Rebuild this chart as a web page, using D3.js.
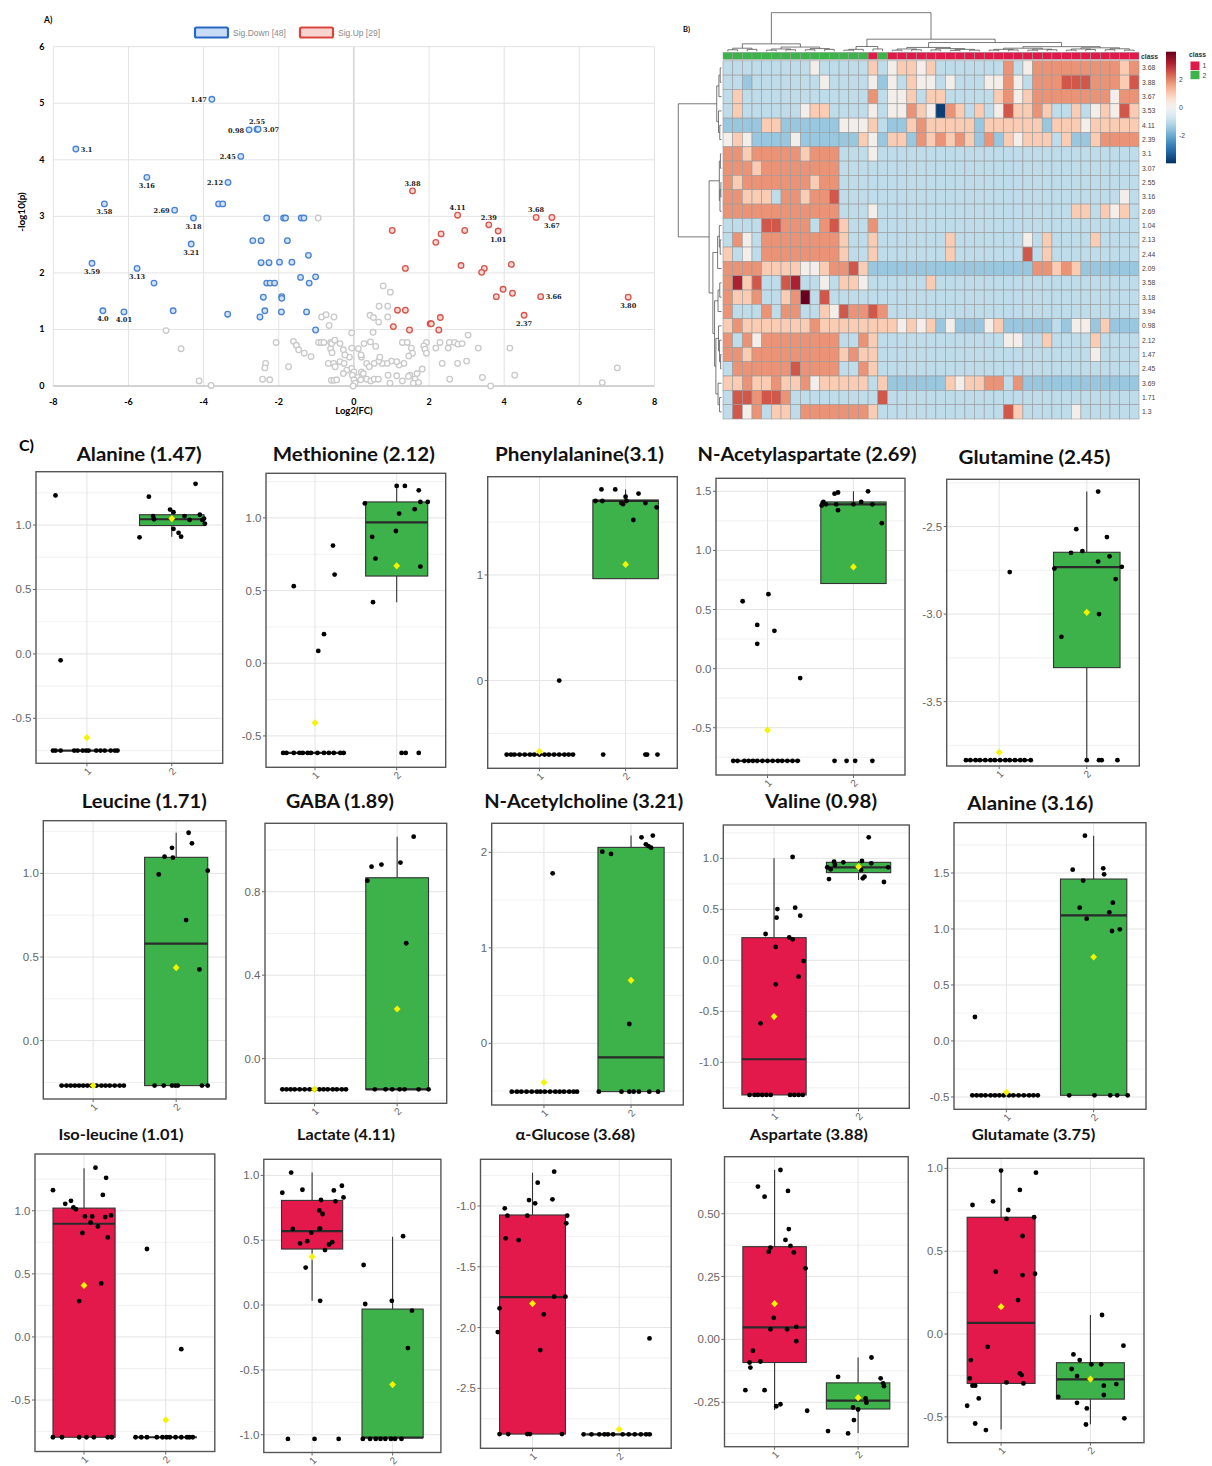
<!DOCTYPE html>
<html>
<head>
<meta charset="utf-8">
<script src="https://cdn.jsdelivr.net/npm/d3@7"></script>
<style>
  body { margin: 0; background: #ffffff; }
  svg { display: block; }
</style>
</head>
<body>
<svg id="fig" width="1212" height="1466"></svg>
<script>
// ---------------- Panel A: volcano data (log2 fold change, -log10 p, ppm label) ----------------
const volcanoXTicks = [-8, -6, -4, -2, 0, 2, 4, 6, 8];
const volcanoYTicks = [0, 1, 2, 3, 4, 5, 6];

const volcanoDown = [
  [-7.40, 4.19, "3.1"], [-3.78, 5.07, "1.47"], [-2.79, 4.53, "0.98"], [-2.58, 4.54, "2.55"], [-2.55, 4.54, "3.07"],
  [-3.01, 4.06, "2.45"], [-5.51, 3.69, "3.16"], [-3.35, 3.60, "2.12"], [-6.64, 3.22, "3.58"], [-4.77, 3.11, "2.69"],
  [-4.27, 2.97, "3.18"], [-4.33, 2.51, "3.21"], [-6.97, 2.17, "3.59"], [-5.77, 2.08, "3.13"], [-6.68, 1.33, "4.0"],
  [-6.12, 1.31, "4.01"],
  [-3.60, 3.22, ""], [-3.49, 3.22, ""], [-5.32, 1.82, ""], [-4.81, 1.33, ""], [-3.36, 1.27, ""],
  [-2.32, 2.97, ""], [-1.87, 2.97, ""], [-1.82, 2.97, ""], [-1.40, 2.97, ""], [-1.33, 2.97, ""],
  [-2.69, 2.57, ""], [-2.47, 2.57, ""], [-1.77, 2.57, ""], [-1.21, 2.31, ""],
  [-2.47, 2.18, ""], [-2.26, 2.18, ""], [-1.98, 2.19, ""], [-1.65, 2.19, ""],
  [-2.32, 1.82, ""], [-2.23, 1.82, ""], [-2.11, 1.82, ""], [-1.42, 1.92, ""], [-1.19, 1.82, ""], [-1.02, 1.93, ""],
  [-2.41, 1.57, ""], [-1.92, 1.58, ""], [-1.92, 1.55, ""],
  [-2.37, 1.33, ""], [-2.50, 1.22, ""], [-1.93, 1.31, ""], [-1.26, 1.31, ""], [-1.02, 0.99, ""]
];

const volcanoUp = [
  [1.56, 3.45, "3.88"], [2.76, 3.02, "4.11"], [3.59, 2.85, "2.39"], [3.84, 2.74, "1.01"], [4.85, 2.98, "3.68"],
  [5.27, 2.98, "3.67"], [4.97, 1.58, "3.66"], [7.30, 1.57, "3.80"], [4.53, 1.25, "2.37"],
  [1.02, 2.75, ""], [2.32, 2.69, ""], [2.18, 2.54, ""], [2.95, 2.75, ""], [1.37, 2.08, ""], [2.85, 2.13, ""],
  [3.47, 2.08, ""], [3.40, 2.01, ""], [4.19, 2.15, ""], [3.97, 1.71, ""], [3.79, 1.58, ""], [4.22, 1.64, ""],
  [1.16, 1.34, ""], [1.37, 1.34, ""], [1.05, 1.05, ""], [1.48, 0.99, ""], [2.03, 1.10, ""], [2.06, 1.10, ""],
  [2.30, 1.21, ""], [2.26, 0.99, ""]
];

const volcanoNS = [
  [-0.95, 2.97], [-5.0, 0.98], [-4.60, 0.66], [-4.12, 0.09], [-3.80, 0.01], [-2.07, 0.77], [-2.35, 0.40], [-2.37, 0.32],
  [-2.43, 0.12], [-2.24, 0.11], [-1.74, 0.34], [-1.61, 0.79], [-1.53, 0.72], [-1.47, 0.64], [-1.32, 0.58], [-1.14, 0.52],
  [-0.86, 1.22], [-0.74, 1.26], [-0.53, 1.22], [-0.66, 1.07], [-0.94, 0.77], [-0.87, 0.77], [-0.80, 0.77], [-0.62, 0.77],
  [-0.62, 0.66], [-0.58, 0.59], [-0.68, 0.40], [-0.54, 0.40], [-0.50, 0.34], [-0.60, 0.10], [-0.53, 0.10],
  [0.78, 1.77], [0.97, 1.66], [0.67, 1.41], [0.90, 1.41], [0.43, 1.25], [0.52, 1.21], [0.66, 1.13], [0.90, 1.22],
  [0.51, 0.95], [-0.06, 0.94], [3.04, 0.90], [3.31, 0.67], [4.15, 0.67], [3.00, 0.44], [2.76, 0.40], [2.35, 0.40],
  [2.55, 0.12], [3.42, 0.15], [3.64, 0.0], [4.28, 0.19], [7.01, 0.32], [6.61, 0.06], [1.93, 0.77], [2.18, 0.67],
  [2.29, 0.77], [2.51, 0.67], [2.54, 0.77], [2.68, 0.77], [2.77, 0.74], [2.88, 0.75],
  [1.86, 0.71], [1.89, 0.65], [1.93, 0.58], [1.82, 0.30], [1.68, 0.22], [1.49, 0.19], [1.45, 0.17], [1.63, 0.12],
  [1.68, 0.05], [1.29, 0.77], [1.42, 0.77], [1.53, 0.67], [1.56, 0.58], [1.46, 0.53], [1.33, 0.40], [1.20, 0.37],
  [1.14, 0.43], [1.00, 0.44], [0.88, 0.40], [0.75, 0.40], [0.66, 0.44], [0.54, 0.40], [0.69, 0.51], [0.58, 0.70],
  [0.44, 0.78], [0.27, 0.75], [0.20, 0.51], [0.34, 0.40], [0.41, 0.34], [0.20, 0.25], [0.10, 0.15], [0.34, 0.12],
  [0.45, 0.09], [0.54, 0.12], [0.65, 0.12], [0.96, 0.05], [0.91, 0.19], [1.14, 0.18], [1.29, 0.09], [1.58, 0.05],
  [1.72, 0.06],
  [-0.37, 0.43], [-0.26, 0.40], [-0.12, 0.51], [-0.06, 0.31], [0.0, 0.25], [-0.04, 0.19], [0.0, 0.11], [0.03, 0.05],
  [-0.02, 0.0], [-0.19, 0.28], [-0.28, 0.22], [-0.46, 0.11], [-0.59, 0.75], [-0.51, 0.81], [-0.37, 0.75], [-0.28, 0.64],
  [-0.24, 0.55], [-0.06, 0.67], [0.12, 0.66], [0.19, 0.55], [0.18, 0.11], [0.25, 0.22]
];

// where each ppm label sits relative to its point
const volcanoLabelSide = {
  "3.1": "r", "1.47": "l", "0.98": "l", "2.55": "t", "3.07": "r", "2.45": "l", "3.16": "b", "2.12": "l",
  "3.58": "b", "2.69": "l", "3.18": "b", "3.21": "b", "3.59": "b", "3.13": "b", "4.0": "b", "4.01": "b",
  "3.88": "t", "4.11": "t", "2.39": "t", "1.01": "b", "3.68": "t", "3.67": "b", "3.66": "r", "3.80": "b", "2.37": "b"
};

// ---------------- Panel B: heat map data ----------------
const heatRows = ["3.68", "3.88", "3.67", "3.53", "4.11", "2.39", "3.1", "3.07", "2.55", "3.16", "2.69", "1.04", "2.13",
  "2.44", "2.09", "3.58", "3.18", "3.94", "0.98", "2.12", "1.47", "2.45", "3.69", "1.71", "1.3"];
// sample class of every column, in dendrogram order
const heatClasses = "2222222222222221" + "2" + "11111111111111111111111111";
// z-score bins: D dark blue ... X darkest red
const heatLevels = { D: -3.8, b: -1.5, l: -1.0, w: 0.1, p: 1.0, o: 1.8, r: 2.5, R: 3.2, X: 4.0 };
const heatCells = [
  "lllllllllwlllll" + "pl" + "wppwplllllll" + "olwooooooooopo",
  "llblllllllwllll" + "wb" + "wlpwwlwlllww" + "owlooorrrooopr",
  "lplllllllllllll" + "ol" + "wwplpplllllp" + "owpoooooooowoo",
  "lpllllllwppllll" + "wl" + "wwopwDoplplw" + "rppopllplwpwrp",
  "bbbbppbbbbbbwww" + "pl" + "bbpopppppbpp" + "ppppbpppwppppp",
  "wpwbbbbwbbbbbbp" + "wb" + "ppbopopopbob" + "pwppplpbbpoooo",
  "oopooooopooolll" + "wl" + "llllllllllll" + "llllllllllllll",
  "ooopoooooooolll" + "ll" + "llllllllllll" + "llllllllllllll",
  "opooooooopoolll" + "ll" + "llllllllllll" + "llllllllllllll",
  "ooppploopoorlll" + "ll" + "llllllllllll" + "llllllllllllwl",
  "oooooooooooolll" + "wl" + "llllllllllll" + "lllllllpplpwpl",
  "llllrrooolorpll" + "ol" + "llllllllllll" + "llllllllllllll",
  "lowloooooooopll" + "pl" + "llllllplllll" + "llwlpllllpllll",
  "plwloooooooopll" + "pl" + "llllllplllll" + "llrlplllllllll",
  "ooooppppwwpoorp" + "bb" + "bbbbbbbbbbbb" + "bbboopopbbbbbb",
  "oRprllrRllwlppw" + "ll" + "llllplllllll" + "llllllllllllll",
  "oppollpoXlrllll" + "ll" + "llllllllllll" + "llllllllllllll",
  "ollloloollpwroo" + "ro" + "llllllllllll" + "llllllllllllll",
  "popppppppoppppp" + "pp" + "pwpwpbwbbbwp" + "bbbbblbwwbpbbb",
  "olowoooooooollo" + "pl" + "llllllllllll" + "wwllpllllpllll",
  "oopooooooooopop" + "pl" + "llllllllllll" + "lllllllllwllll",
  "looooooroooollo" + "pl" + "llllllllllll" + "llllllllllllll",
  "ppoppoppowppppp" + "lp" + "bbbbbbpwppoo" + "lobbbbbbbbbbbb",
  "lrrorrollllllll" + "lr" + "llllllllllll" + "llllllllllllll",
  "lrwolpplooooooo" + "pl" + "llllllllllll" + "rplllllwllllll"
];
// cluster trees: [merge height, left, right]; numbers are leaf indices
const colTree = [10,
  [1.93, [0.8, [0.4, 0, 1], [0.5, 2, 3]], [1.1, [0.6, [0.3, 4, 5], [0.4, 6, 7]], [0.7, [0.4, 8, 9], [0.5, 10, 11]]]],
  [3.14,
    [1.24, [0.5, [0.3, 12, 13], 14], [0.6, 15, 16]],
    [2.27,
      [1.0, [0.6, [0.3, 17, 18], [0.4, 19, 20]], [0.7, [0.35, 21, 22], [0.5, [0.25, 23, 24], [0.3, 25, 26]]]],
      [1.2, [0.8, [0.5, [0.3, 27, 28], [0.35, 29, 30]], [0.55, [0.3, 31, 32], [0.4, 33, 34]]],
            [0.9, [0.6, [0.3, 35, 36], [0.45, 37, 38]], [0.65, [0.4, 39, 40], [0.3, 41, 42]]]]]]];
const rowTree = [10,
  [1.1, [0.6, [0.3, 0, 1], 2], [0.7, 3, [0.4, 4, 5]]],
  [2.87,
    [0.5, [0.25, 6, 7], [0.35, [0.15, 8, 9], 10]],
    [2.0, [0.9, [0.5, 11, [0.3, 12, 13]], 14],
          [1.6, [0.8, [0.4, 15, 16], 17], [1.3, [0.7, 18, [0.45, 19, [0.2, 20, 21]]], [0.8, 22, [0.45, 23, 24]]]]]]];
const colorbarTicks = [2, 0, -2];

// ---------------- Panel C: box plot data ----------------
const boxTitles = ["Alanine (1.47)", "Methionine (2.12)", "Phenylalanine(3.1)", "N-Acetylaspartate (2.69)", "Glutamine (2.45)",
  "Leucine (1.71)", "GABA (1.89)", "N-Acetylcholine (3.21)", "Valine (0.98)", "Alanine (3.16)",
  "Iso-leucine (1.01)", "Lactate (4.11)", "α-Glucose (3.68)", "Aspartate (3.88)", "Glutamate (3.75)"];
const boxGroups = ["1", "2"];
const boxYDomains = [[-0.849, 1.414], [-0.716, 1.307], [-0.83, 1.93], [-0.90, 1.61], [-3.868, -2.23],
  [-0.349, 1.315], [-0.214, 1.128], [-0.646, 2.304], [-1.451, 1.327], [-0.61, 1.949],
  [-0.908, 1.45], [-1.137, 1.124], [-2.993, -0.616], [-0.427, 0.727], [-0.656, 1.061]];
const boxYTicks = [[-0.5, 0, 0.5, 1], [-0.5, 0, 0.5, 1], [0, 1], [-0.5, 0, 0.5, 1, 1.5], [-3.5, -3, -2.5],
  [0, 0.5, 1], [0, 0.4, 0.8], [0, 1, 2], [-1, -0.5, 0, 0.5, 1], [-0.5, 0, 0.5, 1, 1.5],
  [-0.5, 0, 0.5, 1], [-1, -0.5, 0, 0.5, 1], [-2.5, -2, -1.5, -1], [-0.25, 0, 0.25, 0.5], [-0.5, 0, 0.5, 1]];
const boxTickFormats = [".1f", ".1f", "d", ".1f", ".1f", ".1f", ".1f", "d", ".1f", ".1f", ".1f", ".1f", ".1f", ".2f", ".1f"];
// [lower whisker, q1, median, q3, upper whisker] for group 1 and group 2
const boxStats = [
  [[-0.75, -0.75, -0.75, -0.75, -0.75], [0.91, 0.996, 1.045, 1.08, 1.10]],
  [[-0.617, -0.617, -0.617, -0.617, -0.617], [0.42, 0.60, 0.97, 1.11, 1.22]],
  [[-0.70, -0.70, -0.70, -0.70, -0.70], [0.965, 0.965, 1.70, 1.71, 1.81]],
  [[-0.78, -0.78, -0.78, -0.78, -0.78], [0.72, 0.72, 1.39, 1.41, 1.50]],
  [[-3.835, -3.835, -3.835, -3.835, -3.835], [-3.835, -3.306, -2.732, -2.647, -2.30]],
  [[-0.269, -0.269, -0.269, -0.269, -0.269], [-0.269, -0.269, 0.58, 1.096, 1.243]],
  [[-0.147, -0.147, -0.147, -0.147, -0.147], [-0.147, -0.147, -0.147, 0.867, 1.064]],
  [[-0.506, -0.506, -0.506, -0.506, -0.506], [-0.506, -0.506, -0.147, 2.052, 2.175]],
  [[-1.32, -1.32, -0.97, 0.222, 1.0], [0.788, 0.86, 0.912, 0.961, 0.974]],
  [[-0.485, -0.485, -0.485, -0.485, -0.485], [-0.485, -0.485, 1.122, 1.446, 1.833]],
  [[-0.795, -0.795, 0.897, 1.021, 1.337], [-0.795, -0.795, -0.795, -0.795, -0.795]],
  [[0.033, 0.432, 0.57, 0.807, 1.022], [-1.022, -1.022, -1.022, -0.031, 0.526]],
  [[-2.876, -2.876, -1.749, -1.074, -0.726], [-2.878, -2.878, -2.878, -2.878, -2.878]],
  [[-0.281, -0.092, 0.048, 0.369, 0.674], [-0.372, -0.277, -0.244, -0.173, -0.072]],
  [[-0.576, -0.298, 0.068, 0.705, 0.99], [-0.544, -0.393, -0.274, -0.173, 0.115]]
];
const boxMeans = [[-0.65, 1.05], [-0.41, 0.67], [-0.67, 1.10], [-0.52, 0.86], [-3.79, -2.99],
  [-0.269, 0.436], [-0.147, 0.238], [-0.41, 0.66], [-0.552, 0.918], [-0.458, 0.75],
  [0.408, -0.658], [0.373, -0.613], [-1.803, -2.837], [0.142, -0.232], [0.165, -0.272]];
// individual samples: [horizontal jitter in group units, value]
const boxPointsG1 = [
  [[-0.37, 1.23], [-0.31, -0.05], [-0.40, -0.75], [-0.37, -0.75], [-0.31, -0.75], [-0.15, -0.75], [-0.11, -0.75], [-0.05, -0.75],
   [-0.01, -0.75], [0.02, -0.75], [0.11, -0.75], [0.16, -0.75], [0.21, -0.75], [0.28, -0.75], [0.33, -0.75], [0.36, -0.75]],
  [[-0.26, 0.53], [0.22, 0.81], [0.24, 0.61], [0.11, 0.20], [0.04, 0.085], [-0.39, -0.617], [-0.35, -0.617], [-0.26, -0.617],
   [-0.19, -0.617], [-0.15, -0.617], [-0.09, -0.617], [-0.05, -0.617], [0.03, -0.617], [0.11, -0.617], [0.17, -0.617],
   [0.23, -0.617], [0.31, -0.617], [0.35, -0.617]],
  [[-0.38, -0.70], [-0.33, -0.70], [-0.29, -0.70], [-0.23, -0.70], [-0.17, -0.70], [-0.11, -0.70], [-0.06, -0.70], [0, -0.70],
   [0.06, -0.70], [0.11, -0.70], [0.17, -0.70], [0.23, -0.70], [0.29, -0.70], [0.34, -0.70], [0.39, -0.70], [0.23, 0.0]],
  [[-0.29, 0.57], [0.01, 0.63], [-0.12, 0.37], [0.08, 0.32], [-0.12, 0.21], [0.38, -0.08], [-0.40, -0.78], [-0.35, -0.78],
   [-0.27, -0.78], [-0.22, -0.78], [-0.17, -0.78], [-0.12, -0.78], [-0.06, -0.78], [0, -0.78], [0.06, -0.78], [0.12, -0.78],
   [0.17, -0.78], [0.23, -0.78], [0.29, -0.78], [0.35, -0.78]],
  [[-0.38, -3.835], [-0.33, -3.835], [-0.27, -3.835], [-0.22, -3.835], [-0.16, -3.835], [-0.10, -3.835], [-0.05, -3.835],
   [0.01, -3.835], [0.07, -3.835], [0.12, -3.835], [0.18, -3.835], [0.24, -3.835], [0.29, -3.835], [0.36, -3.835], [0.12, -2.76]],
  [[-0.38, -0.269], [-0.32, -0.269], [-0.27, -0.269], [-0.22, -0.269], [-0.17, -0.269], [-0.12, -0.269], [-0.07, -0.269],
   [-0.02, -0.269], [0.04, -0.269], [0.10, -0.269], [0.15, -0.269], [0.20, -0.269], [0.26, -0.269], [0.32, -0.269], [0.37, -0.269]],
  [[-0.39, -0.147], [-0.34, -0.147], [-0.29, -0.147], [-0.24, -0.147], [-0.18, -0.147], [-0.12, -0.147], [-0.06, -0.147],
   [0, -0.147], [0.06, -0.147], [0.11, -0.147], [0.16, -0.147], [0.22, -0.147], [0.27, -0.147], [0.33, -0.147], [0.38, -0.147]],
  [[-0.37, -0.506], [-0.31, -0.506], [-0.26, -0.506], [-0.20, -0.506], [-0.14, -0.506], [-0.08, -0.506], [-0.04, -0.506],
   [0.01, -0.506], [0.07, -0.506], [0.13, -0.506], [0.18, -0.506], [0.23, -0.506], [0.29, -0.506], [0.34, -0.506],
   [0.38, -0.506], [0.10, 1.78]],
  [[0.22, 1.013], [0.04, 0.503], [0.25, 0.516], [0.03, 0.418], [0.31, 0.438], [-0.1, 0.258], [0.18, 0.225], [0.22, 0.206],
   [0.02, 0.131], [0.35, -0.007], [0.29, -0.16], [0.02, -0.235], [-0.16, -0.618], [-0.29, -1.32], [-0.23, -1.32], [-0.19, -1.32],
   [-0.14, -1.32], [-0.09, -1.32], [-0.04, -1.32], [0.19, -1.32], [0.24, -1.32], [0.29, -1.32], [0.34, -1.32]],
  [[-0.39, -0.485], [-0.34, -0.485], [-0.29, -0.485], [-0.24, -0.485], [-0.18, -0.485], [-0.13, -0.485], [-0.08, -0.485],
   [-0.03, -0.485], [0.03, -0.485], [0.08, -0.485], [0.14, -0.485], [0.2, -0.485], [0.26, -0.485], [0.31, -0.485],
   [0.36, -0.485], [-0.36, 0.214]],
  [[-0.38, 1.163], [-0.23, 1.055], [-0.16, 1.079], [-0.13, 1.026], [-0.1, 1.013], [0.14, 1.342], [0.27, 1.261], [0.23, 1.126],
   [0.01, 0.955], [0.1, 0.955], [0.08, 0.908], [0.17, 0.876], [0.26, 0.95], [0.33, 0.963], [-0.02, 0.824], [0.29, 0.789],
   [0.21, 0.424], [-0.06, 0.284], [-0.38, -0.795], [-0.27, -0.795], [-0.06, -0.795], [0.03, -0.795], [0.12, -0.795],
   [0.29, -0.795], [0.34, -0.795]],
  [[-0.26, 1.022], [-0.37, 0.866], [-0.12, 0.889], [0.27, 0.884], [0.37, 0.92], [0.39, 0.83], [0.11, 0.81], [0.29, 0.8],
   [0.09, 0.73], [0.13, 0.702], [-0.24, 0.587], [0.09, 0.587], [-0.01, 0.557], [0.1, 0.59], [-0.15, 0.475], [-0.06, 0.493],
   [0.21, 0.467], [0.25, 0.485], [0.16, 0.424], [-0.08, 0.289], [0.1, 0.033], [-0.3, -1.032], [0.03, -1.032], [0.33, -1.032]],
  [[0.25, -0.718], [0.06, -0.808], [-0.04, -0.951], [0.03, -0.978], [0.23, -0.945], [-0.32, -1.019], [-0.29, -1.08],
   [-0.06, -1.08], [0.40, -1.08], [0.39, -1.143], [-0.31, -1.266], [-0.16, -1.28], [0.25, -1.746], [0.38, -1.746],
   [-0.38, -1.842], [0.13, -1.891], [-0.40, -2.037], [0.09, -2.185], [-0.38, -2.876], [-0.28, -2.876], [-0.06, -2.876],
   [-0.03, -2.876], [0.34, -2.876]],
  [[0.07, 0.674], [-0.2, 0.608], [-0.12, 0.568], [0.16, 0.591], [0.17, 0.439], [0.13, 0.396], [-0.05, 0.365], [-0.07, 0.349],
   [0.19, 0.372], [0.23, 0.346], [0.37, 0.283], [-0.01, 0.086], [-0.05, 0.04], [0.15, 0.04], [0.26, 0.05], [0.26, -0.007],
   [-0.26, -0.045], [-0.30, -0.092], [-0.17, -0.088], [-0.29, -0.112], [-0.35, -0.202], [-0.12, -0.202], [0.07, -0.258],
   [0.02, -0.266], [0.39, -0.284]],
  [[0, 0.987], [0.39, 0.974], [0.21, 0.87], [-0.32, 0.779], [-0.09, 0.801], [0.08, 0.749], [0.06, 0.695], [0.37, 0.705],
   [0.24, 0.592], [-0.06, 0.376], [0.24, 0.356], [0.38, 0.364], [0.19, 0.205], [-0.15, -0.077], [-0.34, -0.157], [0.21, -0.238],
   [0.23, -0.248], [-0.35, -0.268], [-0.32, -0.312], [-0.29, -0.312], [0.06, -0.292], [0.25, -0.298], [-0.25, -0.389],
   [-0.38, -0.433], [-0.29, -0.54], [-0.17, -0.58]]
];
const boxPointsG2 = [
  [[-0.38, 0.905], [-0.27, 1.22], [-0.22, 1.07], [-0.21, 1.045], [-0.02, 1.12], [0.02, 1.10], [0.02, 0.97], [0.08, 0.94],
   [0.11, 0.91], [0.15, 1.07], [0.21, 1.04], [0.28, 1.32], [0.33, 1.08], [0.36, 1.04], [0.39, 1.01], [0.38, 1.05]],
  [[-0.39, 1.10], [0, 1.22], [0.10, 1.22], [0.27, 1.19], [0.29, 1.11], [0.38, 1.11], [0.03, 1.03], [0.22, 1.06], [-0.01, 0.91],
   [-0.30, 0.87], [-0.26, 0.72], [0.29, 0.665], [-0.29, 0.42], [0.06, -0.617], [0.11, -0.617], [0.27, -0.617]],
  [[-0.35, 1.70], [-0.27, 1.70], [-0.28, 1.81], [-0.12, 1.81], [-0.05, 1.68], [-0.03, 1.67], [0, 1.74], [0.01, 1.70],
   [0.15, 1.77], [0.09, 1.52], [0.23, 1.68], [0.36, 1.64], [-0.26, -0.70], [0.23, -0.70], [0.25, -0.70], [0.37, -0.70]],
  [[-0.37, 1.38], [-0.35, 1.41], [-0.32, 1.39], [-0.22, 1.48], [-0.18, 1.49], [-0.20, 1.39], [-0.18, 1.34], [0, 1.39],
   [0.09, 1.41], [0.17, 1.50], [0.22, 1.39], [0.33, 1.23], [-0.22, -0.78], [-0.08, -0.78], [0.02, -0.78], [0.22, -0.78]],
  [[0.13, -2.30], [-0.12, -2.515], [0.23, -2.56], [-0.18, -2.65], [-0.05, -2.64], [0.26, -2.67], [0.13, -2.70], [-0.37, -2.74],
   [0.40, -2.73], [0.33, -2.80], [0.14, -3.0], [-0.29, -3.13], [0, -3.835], [0.14, -3.835], [0.17, -3.835], [0.35, -3.835]],
  [[0.15, 1.243], [0.19, 1.18], [-0.05, 1.153], [-0.14, 1.10], [-0.04, 1.094], [-0.21, 0.994], [0.38, 1.016], [0.12, 0.721],
   [0.28, 0.426], [-0.26, -0.269], [-0.15, -0.269], [-0.05, -0.269], [-0.01, -0.269], [0.02, -0.269], [0.31, -0.269], [0.38, -0.269]],
  [[0.2, 1.064], [-0.31, 0.92], [-0.19, 0.93], [0.04, 0.94], [-0.36, 0.853], [0.11, 0.553], [-0.27, -0.147], [-0.14, -0.147],
   [-0.06, -0.147], [0.03, -0.147], [0.09, -0.147], [0.26, -0.147], [0.38, -0.147]],
  [[0.12, 2.157], [0.25, 2.175], [0.17, 2.084], [0.2, 2.066], [0.23, 2.049], [-0.33, 2.007], [-0.23, 1.983], [-0.02, 0.202],
   [-0.37, -0.506], [-0.11, -0.506], [-0.02, -0.506], [0.03, -0.506], [0.09, -0.506], [0.21, -0.506], [0.31, -0.506]],
  [[0.12, 1.206], [-0.35, 0.797], [0.30, 0.768], [-0.29, 0.967], [-0.18, 0.961], [0.04, 0.974], [0.15, 0.951], [-0.37, 0.912],
   [-0.33, 0.892], [0.03, 0.886], [0.07, 0.82], [0.05, 0.804], [0.35, 0.912], [-0.28, 0.935]],
  [[-0.1, 1.833], [-0.24, 1.53], [0.11, 1.542], [0.12, 1.488], [-0.12, 1.432], [-0.16, 1.19], [0.22, 1.235], [0.18, 1.149],
   [-0.08, 1.092], [0.21, 0.982], [0.3, 0.997], [-0.28, -0.485], [0.01, -0.485], [0.19, -0.485], [0.27, -0.485], [0.39, -0.485]],
  [[-0.37, -0.795], [-0.3, -0.795], [-0.23, -0.795], [-0.11, -0.795], [-0.04, -0.795], [0.01, -0.795], [0.05, -0.795],
   [0.12, -0.795], [0.19, -0.795], [0.26, -0.795], [0.29, -0.795], [0.33, -0.795], [-0.23, 0.697], [0.19, -0.097]],
  [[0.13, 0.531], [-0.36, 0.309], [-0.34, 0.008], [-0.01, 0.033], [0.24, -0.043], [0.19, -0.332], [-0.37, -1.032],
   [-0.28, -1.032], [-0.21, -1.032], [-0.15, -1.032], [-0.09, -1.032], [-0.02, -1.032], [0.03, -1.032], [0.11, -1.032]],
  [[-0.41, -2.878], [-0.32, -2.878], [-0.23, -2.878], [-0.17, -2.878], [-0.13, -2.878], [-0.07, -2.878], [0.04, -2.878],
   [0.11, -2.878], [0.18, -2.878], [0.25, -2.878], [0.31, -2.878], [0.35, -2.878], [0.35, -2.089]],
  [[0.16, -0.072], [-0.24, -0.149], [0.27, -0.155], [0.3, -0.175], [0.31, -0.186], [0.09, -0.235], [0.1, -0.252], [-0.06, -0.271],
   [0, -0.279], [-0.05, -0.321], [-0.36, -0.365], [-0.12, -0.374]],
  [[0.13, 0.115], [-0.19, -0.123], [-0.12, -0.157], [0.01, -0.183], [0.12, -0.183], [0.37, -0.07], [-0.21, -0.211],
   [-0.15, -0.254], [0.15, -0.312], [0.29, -0.302], [-0.36, -0.379], [0.15, -0.368], [-0.15, -0.415], [-0.04, -0.449],
   [-0.05, -0.546], [0.38, -0.509]]
];

// ---------------- layout ----------------
const SANS = "'Liberation Sans', Arial, sans-serif";
const TITLE_FONT = "Lato, 'Open Sans', sans-serif";
const classColor = { "1": "#e0194b", "2": "#3db34b" };
const groupFill = ["#e3194b", "#3db14a"];
const fmtLocale = d3.formatLocale({ decimal: ".", thousands: ",", grouping: [3], currency: ["", ""], minus: "-" });

const svg = d3.select("#fig");
svg.append("rect").attr("width", 1212).attr("height", 1466).attr("fill", "#fff");

// ====================== A) volcano plot ======================
(function drawVolcano() {
  const g = svg.append("g");
  const x = d3.scaleLinear().domain([-8, 8]).range([53.3, 654.5]);
  const y = d3.scaleLinear().domain([0, 6]).range([386, 46.7]);
  const fmt = fmtLocale.format("d");

  g.append("text").attr("x", 44).attr("y", 23).text("A)")
    .attr("font-family", TITLE_FONT).attr("font-weight", 700).attr("font-size", 8.5);

  g.selectAll("line.gx").data(volcanoXTicks).join("line").attr("class", "gx")
    .attr("x1", d => x(d)).attr("x2", d => x(d)).attr("y1", y(0)).attr("y2", y(6))
    .attr("stroke", d => d === 0 ? "#bdbdbd" : "#e3e3e3").attr("stroke-width", 1);
  g.selectAll("line.gy").data(volcanoYTicks).join("line").attr("class", "gy")
    .attr("x1", x(-8)).attr("x2", x(8)).attr("y1", d => y(d)).attr("y2", d => y(d))
    .attr("stroke", d => d === 0 ? "#c4c4c4" : "#e3e3e3").attr("stroke-width", d => d === 0 ? 1.3 : 1);

  g.selectAll("text.tx").data(volcanoXTicks).join("text").attr("class", "tx")
    .attr("x", d => x(d)).attr("y", 405).attr("text-anchor", "middle").text(d => fmt(d))
    .attr("font-family", TITLE_FONT).attr("font-weight", 700).attr("font-size", 9);
  g.selectAll("text.ty").data(volcanoYTicks).join("text").attr("class", "ty")
    .attr("x", 44.5).attr("y", d => y(d) + 3).attr("text-anchor", "end").text(d => fmt(d))
    .attr("font-family", TITLE_FONT).attr("font-weight", 700).attr("font-size", 9);

  g.append("text").attr("transform", "translate(25,212) rotate(-90)").attr("text-anchor", "middle")
    .text("-log10(p)").attr("font-family", TITLE_FONT).attr("font-weight", 700).attr("font-size", 10);
  g.append("text").attr("x", 354).attr("y", 414).attr("text-anchor", "middle")
    .text("Log2(FC)").attr("font-family", TITLE_FONT).attr("font-weight", 700).attr("font-size", 9.5);

  // legend
  const leg = [
    { x: 195, label: `Sig.Down [${volcanoDown.length}]`, stroke: "#2a66c4", fill: "#c8dcf5" },
    { x: 300, label: `Sig.Up [${volcanoUp.length}]`, stroke: "#d8463e", fill: "#f8d4d0" }
  ];
  leg.forEach(l => {
    g.append("rect").attr("x", l.x).attr("y", 27.5).attr("width", 33).attr("height", 10)
      .attr("rx", 1.5).attr("fill", l.fill).attr("stroke", l.stroke).attr("stroke-width", 2.2);
    g.append("text").attr("x", l.x + 38).attr("y", 36).text(l.label)
      .attr("font-family", SANS).attr("font-size", 8.5).attr("fill", "#8a8a8a");
  });

  const pts = (data, stroke, fill) => g.append("g").selectAll("circle").data(data).join("circle")
    .attr("cx", d => x(d[0])).attr("cy", d => y(d[1])).attr("r", 2.8)
    .attr("fill", fill).attr("stroke", stroke).attr("stroke-width", 1.3);
  pts(volcanoNS, "#c9c9c9", "#ffffff");
  pts(volcanoDown, "#4a82d2", "#d3e3f7");
  pts(volcanoUp, "#d5544c", "#f7d6d2");

  const off = { r: [5, 2.7, "start"], l: [-5, 2.7, "end"], t: [0, -5, "middle"], b: [0, 10.5, "middle"] };
  const labelled = volcanoDown.concat(volcanoUp).filter(d => d[2]);
  g.append("g").selectAll("text").data(labelled).join("text")
    .attr("x", d => x(d[0]) + off[volcanoLabelSide[d[2]]][0])
    .attr("y", d => y(d[1]) + off[volcanoLabelSide[d[2]]][1])
    .attr("text-anchor", d => off[volcanoLabelSide[d[2]]][2])
    .text(d => d[2])
    .attr("font-family", "'DejaVu Serif', 'Liberation Serif', serif").attr("font-weight", 700)
    .attr("font-size", 6.6).attr("fill", "#222");
})();

// ====================== B) clustered heat map ======================
(function drawHeatmap() {
  const g = svg.append("g");
  const nCol = heatClasses.length;
  const x = d3.scaleBand().domain(d3.range(nCol)).range([723, 1139]);
  const y = d3.scaleBand().domain(heatRows).range([60.8, 419]);
  const color = v => d3.interpolateRdBu(0.5 - v / 8);

  g.append("text").attr("x", 683).attr("y", 32).text("B)")
    .attr("font-family", TITLE_FONT).attr("font-weight", 700).attr("font-size", 7.5);

  // annotation bar
  g.append("g").selectAll("rect").data(d3.range(nCol)).join("rect")
    .attr("x", d => x(d)).attr("y", 52.3).attr("width", x.bandwidth()).attr("height", 7)
    .attr("fill", d => classColor[heatClasses[d]]).attr("stroke", "#9a9a9a").attr("stroke-width", 0.5);

  // cells
  const cells = [];
  heatRows.forEach((r, ri) => {
    for (let c = 0; c < nCol; c++) cells.push({ r, c, v: heatLevels[heatCells[ri][c] || "l"] });
  });
  g.append("g").selectAll("rect").data(cells).join("rect")
    .attr("x", d => x(d.c)).attr("y", d => y(d.r)).attr("width", x.bandwidth()).attr("height", y.bandwidth())
    .attr("fill", d => color(d.v)).attr("stroke", "#9a9a9a").attr("stroke-width", 0.6);

  // row labels
  g.append("g").selectAll("text").data(heatRows).join("text")
    .attr("x", 1142).attr("y", d => y(d) + y.bandwidth() / 2 + 2.4).text(d => d)
    .attr("font-family", SANS).attr("font-size", 6.8).attr("fill", "#444");
  g.append("text").attr("x", 1141).attr("y", 58.5).text("class")
    .attr("font-family", SANS).attr("font-weight", 700).attr("font-size", 6.8).attr("fill", "#333");

  // dendrograms
  const drawTree = (node, leafPos, hScale, vertical, out) => {
    if (typeof node === "number") return [leafPos(node), 0];
    const [h, a, b] = node;
    const pa = drawTree(a, leafPos, hScale, vertical, out);
    const pb = drawTree(b, leafPos, hScale, vertical, out);
    if (vertical) {
      out.push(`M${pa[0]},${hScale(pa[1])}V${hScale(h)}H${pb[0]}V${hScale(pb[1])}`);
    } else {
      out.push(`M${hScale(pa[1])},${pa[0]}H${hScale(h)}V${pb[0]}H${hScale(pb[1])}`);
    }
    return [(pa[0] + pb[0]) / 2, h];
  };
  const colPaths = [];
  drawTree(colTree, i => x(i) + x.bandwidth() / 2, d3.scaleLinear().domain([0, 10]).range([51.3, 12.7]), true, colPaths);
  const rowPaths = [];
  drawTree(rowTree, i => y(heatRows[i]) + y.bandwidth() / 2, d3.scaleLinear().domain([0, 10]).range([721.5, 678.3]), false, rowPaths);
  g.append("g").selectAll("path").data(colPaths.concat(rowPaths)).join("path")
    .attr("d", d => d).attr("fill", "none").attr("stroke", "#555").attr("stroke-width", 0.8);

  // colour key
  const defs = svg.append("defs");
  const grad = defs.append("linearGradient").attr("id", "zkey").attr("x1", 0).attr("x2", 0).attr("y1", 0).attr("y2", 1);
  d3.range(0, 1.0001, 0.05).forEach(t => grad.append("stop").attr("offset", t).attr("stop-color", d3.interpolateRdBu(t)));
  const ky = d3.scaleLinear().domain([-4, 4]).range([163.3, 51.7]);
  g.append("rect").attr("x", 1166).attr("y", ky(4)).attr("width", 10).attr("height", ky(-4) - ky(4)).attr("fill", "url(#zkey)");
  g.append("g").selectAll("text").data(colorbarTicks).join("text")
    .attr("x", 1179).attr("y", d => ky(d) + 2.4).text(d => fmtLocale.format("d")(d))
    .attr("font-family", SANS).attr("font-size", 6.8).attr("fill", "#444");

  // class key
  g.append("text").attr("x", 1189).attr("y", 57).text("class")
    .attr("font-family", SANS).attr("font-weight", 700).attr("font-size", 6.8).attr("fill", "#333");
  ["1", "2"].forEach((k, i) => {
    g.append("rect").attr("x", 1190.5).attr("y", 61.5 + i * 9.2).attr("width", 9).attr("height", 8.5).attr("fill", classColor[k]);
    g.append("text").attr("x", 1202.5).attr("y", 68.3 + i * 9.2).text(k)
      .attr("font-family", SANS).attr("font-size", 6.8).attr("fill", "#444");
  });
})();

// ====================== C) box plots ======================
const boxFrames = [
  [36, 471.7, 222.7, 763.3], [266, 473.3, 445.7, 767.3], [487.7, 476.7, 677.3, 768.3], [716, 478.3, 905, 775], [946.7, 479.3, 1139.3, 766],
  [43.3, 820.7, 226, 1099], [265, 823.3, 446.7, 1103.3], [491.7, 823.3, 683.3, 1105], [723.3, 825, 909.3, 1108.3], [954, 822.7, 1146, 1109.3],
  [35, 1154, 214.8, 1451.5], [263.8, 1159.3, 440.9, 1452.5], [480.5, 1159.3, 671.2, 1448.3], [724.5, 1156.7, 908.2, 1446.7], [947.5, 1158.3, 1144, 1442.7]
];
// title: centre x, baseline y, text width, font size
const titleLayout = [
  [139.2, 461, 125, 18], [353.8, 461, 162, 18], [579.5, 461, 169, 18], [807, 461, 219, 18], [1034.5, 464, 152, 18],
  [144.2, 808, 125, 18], [340, 808, 108, 18], [583.7, 808, 199, 18], [821, 808, 112, 18], [1030.3, 810, 126, 18],
  [121, 1140, 125, 15], [346, 1140, 98, 15], [575.3, 1140, 119.4, 15], [808.8, 1140, 118, 15], [1033.5, 1140, 123.7, 15]
];

svg.append("text").attr("x", 19).attr("y", 451).text("C)")
  .attr("font-family", TITLE_FONT).attr("font-weight", 700).attr("font-size", 16);

const defsBox = svg.append("defs");
boxTitles.forEach((title, i) => {
  const [x0, y0, x1, y1] = boxFrames[i];
  const dom = boxYDomains[i];
  const x = d3.scaleLinear().domain([0.4, 2.6]).range([x0, x1]);
  const y = d3.scaleLinear().domain(dom).range([y1, y0]);
  const g = svg.append("g");
  const clipId = "clip" + i;
  defsBox.append("clipPath").attr("id", clipId).append("rect")
    .attr("x", x0).attr("y", y0).attr("width", x1 - x0).attr("height", y1 - y0);
  const inner = g.append("g").attr("clip-path", `url(#${clipId})`);

  // grid
  const ticks = boxYTicks[i];
  const step = ticks[1] - ticks[0];
  const minors = d3.range(-20, 21).map(k => ticks[0] + (k + 0.5) * step).filter(t => t > dom[0] && t < dom[1]);
  inner.selectAll("line.mn").data(minors).join("line").attr("class", "mn")
    .attr("x1", x0).attr("x2", x1).attr("y1", d => y(d)).attr("y2", d => y(d))
    .attr("stroke", "#eeeeee").attr("stroke-width", 0.8);
  inner.selectAll("line.mj").data(ticks).join("line").attr("class", "mj")
    .attr("x1", x0).attr("x2", x1).attr("y1", d => y(d)).attr("y2", d => y(d))
    .attr("stroke", "#e4e4e4").attr("stroke-width", 1);
  inner.selectAll("line.gx").data([1, 2]).join("line").attr("class", "gx")
    .attr("x1", d => x(d)).attr("x2", d => x(d)).attr("y1", y0).attr("y2", y1)
    .attr("stroke", "#e4e4e4").attr("stroke-width", 1);

  // boxes
  boxStats[i].forEach((s, gi) => {
    const cx = x(gi + 1);
    const half = (x(1.38) - x(0.62)) / 2;
    const [lo, q1, med, q3, hi] = s;
    inner.append("line").attr("x1", cx).attr("x2", cx).attr("y1", y(q3)).attr("y2", y(hi))
      .attr("stroke", "#333").attr("stroke-width", 1.1);
    inner.append("line").attr("x1", cx).attr("x2", cx).attr("y1", y(q1)).attr("y2", y(lo))
      .attr("stroke", "#333").attr("stroke-width", 1.1);
    inner.append("rect").attr("x", cx - half).attr("width", 2 * half)
      .attr("y", y(q3)).attr("height", Math.max(0, y(q1) - y(q3)))
      .attr("fill", groupFill[gi]).attr("stroke", "#333").attr("stroke-width", 1.1);
    inner.append("line").attr("x1", cx - half).attr("x2", cx + half).attr("y1", y(med)).attr("y2", y(med))
      .attr("stroke", "#2a2a2a").attr("stroke-width", 2.2);
  });

  // samples
  [boxPointsG1[i], boxPointsG2[i]].forEach((pts, gi) => {
    inner.append("g").selectAll("circle").data(pts).join("circle")
      .attr("cx", d => x(gi + 1 + d[0])).attr("cy", d => y(d[1])).attr("r", 2.4).attr("fill", "#000");
  });

  // group means
  inner.append("g").selectAll("path").data(boxMeans[i]).join("path")
    .attr("transform", (d, gi) => `translate(${x(gi + 1)},${y(d)})`)
    .attr("d", "M0,-3.6L3.4,0L0,3.6L-3.4,0Z").attr("fill", "#f4f400");

  // frame and axes
  g.append("rect").attr("x", x0).attr("y", y0).attr("width", x1 - x0).attr("height", y1 - y0)
    .attr("fill", "none").attr("stroke", "#555").attr("stroke-width", 1.4);
  const fmt = fmtLocale.format(boxTickFormats[i]);
  g.selectAll("line.tk").data(ticks).join("line").attr("class", "tk")
    .attr("x1", x0 - 3).attr("x2", x0).attr("y1", d => y(d)).attr("y2", d => y(d))
    .attr("stroke", "#666").attr("stroke-width", 1);
  g.selectAll("text.tl").data(ticks).join("text").attr("class", "tl")
    .attr("x", x0 - 4.5).attr("y", d => y(d) + 4).attr("text-anchor", "end").text(d => fmt(d))
    .attr("font-family", SANS).attr("font-size", 11.5).attr("fill", "#666");
  g.selectAll("line.tkx").data([1, 2]).join("line").attr("class", "tkx")
    .attr("x1", d => x(d)).attr("x2", d => x(d)).attr("y1", y1).attr("y2", y1 + 3)
    .attr("stroke", "#666").attr("stroke-width", 1);
  g.selectAll("text.xl").data(boxGroups).join("text").attr("class", "xl")
    .attr("transform", (d, gi) => `translate(${x(gi + 1) + 2.5},${y1 + 6}) rotate(-45)`)
    .attr("text-anchor", "end").attr("dy", "0.35em").text(d => d)
    .attr("font-family", SANS).attr("font-size", 10).attr("fill", "#666");

  // title
  const [tcx, tby, tw, tfs] = titleLayout[i];
  g.append("text").attr("x", tcx).attr("y", tby).attr("text-anchor", "middle").text(title)
    .attr("font-family", TITLE_FONT).attr("font-weight", 700).attr("font-size", tfs)
    .attr("textLength", tw).attr("lengthAdjust", "spacingAndGlyphs").attr("fill", "#111");
});
</script>
</body>
</html>
